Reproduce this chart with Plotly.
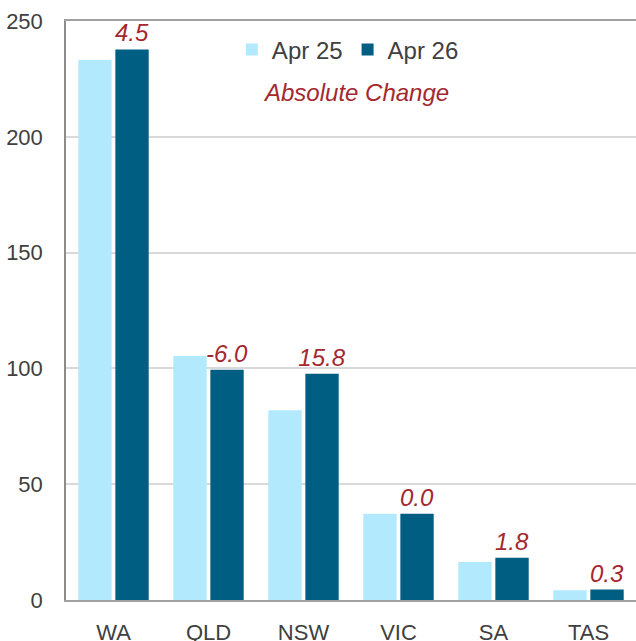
import plotly.graph_objects as go

states = ["WA", "QLD", "NSW", "VIC", "SA", "TAS"]
apr25 = [233.2, 105.4, 81.9, 37.2, 16.4, 4.2]
apr26 = [237.7, 99.4, 97.7, 37.2, 18.2, 4.5]
change_labels = ["4.5", "-6.0", "15.8", "0.0", "1.8", "0.3"]
y_ticks = [0, 50, 100, 150, 200, 250]

FONT = "Liberation Sans, Arial, sans-serif"
GREY = "#404040"
RED = "#A4282F"

fig = go.Figure()
fig.add_trace(go.Bar(
    x=states, y=apr25, name="Apr 25",
    marker=dict(color="#B3E9FC", line=dict(width=0)),
))
fig.add_trace(go.Bar(
    x=states, y=apr26, name="Apr 26",
    marker=dict(color="#005E82", line=dict(width=0)),
    text=change_labels, textposition="outside", cliponaxis=False,
    constraintext="none",
    textfont=dict(family=FONT, size=24, color=RED, style="italic"),
))

fig.add_annotation(
    text="<i>Absolute Change</i>", xref="paper", yref="paper",
    x=0.509, y=0.877, xanchor="center", yanchor="middle", showarrow=False,
    font=dict(family=FONT, size=24, color=RED),
)

fig.update_layout(
    width=636, height=641,
    margin=dict(l=66, r=0, t=21, b=41, autoexpand=False),
    plot_bgcolor="white", paper_bgcolor="white",
    barmode="group", bargap=0.22, bargroupgap=0.1,
    font=dict(family=FONT, size=22, color=GREY),
    legend=dict(
        orientation="h", x=0.291, y=0.95, xanchor="left", yanchor="middle",
        font=dict(family=FONT, size=24, color=GREY),
        bgcolor="rgba(0,0,0,0)", itemwidth=30, tracegroupgap=0,
    ),
    showlegend=True,
)
fig.update_yaxes(
    range=[0, 250], tickvals=y_ticks, showgrid=True, gridcolor="#D9D9D9",
    gridwidth=1.5, showline=True, linecolor="#8C8C8C", linewidth=1.5,
    zeroline=False, ticks="", ticklabelstandoff=17, automargin=False,
    tickfont=dict(family=FONT, size=22, color=GREY),
)
fig.update_xaxes(
    showline=True, linecolor="#A0A0A0", linewidth=2, mirror=True,
    ticks="", ticklabelstandoff=12, automargin=False,
    tickfont=dict(family=FONT, size=22, color=GREY),
)

fig.write_html(
    "out.html",
    config={"displayModeBar": False},
    post_script="document.body.style.margin='0px';document.body.style.overflow='hidden';",
)
